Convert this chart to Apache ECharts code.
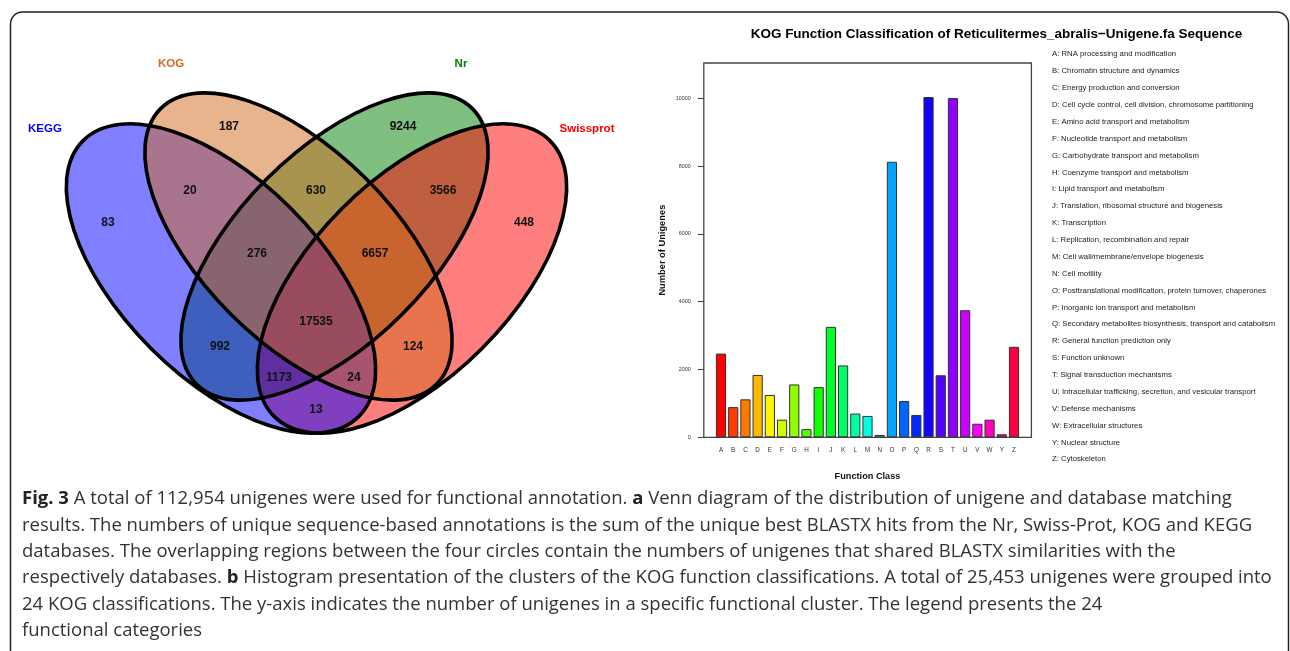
<!DOCTYPE html>
<html><head><meta charset="utf-8">
<script src="https://cdn.jsdelivr.net/npm/echarts@6/dist/echarts.min.js"></script>
<style>html,body{margin:0;padding:0;background:#fff;}#c{width:1290px;height:651px;}</style>
</head><body><div id="c"></div>
<script>
// ---------- DATA ----------
const vennSets = ['KEGG', 'KOG', 'Nr', 'Swissprot'];
const vennSetColors = ['#0000FF', '#D2691E', '#008000', '#FF0000'];
const vennRegionCounts = [83, 187, 9244, 448, 20, 630, 3566, 276, 6657, 17535, 992, 124, 1173, 24, 13];

const kogClasses = ['A','B','C','D','E','F','G','H','I','J','K','L','M','N','O','P','Q','R','S','T','U','V','W','Y','Z'];
const kogCounts = [2470, 890, 1120, 1840, 1250, 520, 1560, 240, 1480, 3260, 2120, 700, 630, 70, 8130, 1070, 660, 10040, 1830, 10010, 3750, 400, 520, 90, 2670];
const kogColors = ['#FF0000','#FF3D00','#FF7A00','#FFB800','#FFF500','#CCFF00','#8FFF00','#52FF00','#14FF00','#00FF29','#00FF66','#00FFA3','#00FFE0','#00E0FF','#00A3FF','#0066FF','#0029FF','#1400FF','#5200FF','#8F00FF','#CC00FF','#FF00F5','#FF00B8','#FF007A','#FF003D'];
const kogDescriptions = [
  'A: RNA processing and modification',
  'B: Chromatin structure and dynamics',
  'C: Energy production and conversion',
  'D: Cell cycle control, cell division, chromosome partitioning',
  'E: Amino acid transport and metabolism',
  'F: Nucleotide transport and metabolism',
  'G: Carbohydrate transport and metabolism',
  'H: Coenzyme transport and metabolism',
  'I: Lipid transport and metabolism',
  'J: Translation, ribosomal structure and biogenesis',
  'K: Transcription',
  'L: Replication, recombination and repair',
  'M: Cell wall/membrane/envelope biogenesis',
  'N: Cell motility',
  'O: Posttranslational modification, protein turnover, chaperones',
  'P: Inorganic ion transport and metabolism',
  'Q: Secondary metabolites biosynthesis, transport and catabolism',
  'R: General function prediction only',
  'S: Function unknown',
  'T: Signal transduction mechanisms',
  'U: Intracellular trafficking, secretion, and vesicular transport',
  'V: Defense mechanisms',
  'W: Extracellular structures',
  'Y: Nuclear structure',
  'Z: Cytoskeleton'
];
const yTicks = [0, 2000, 4000, 6000, 8000, 10000];
const chartTitle = 'KOG Function Classification of Reticulitermes_abralis\u2212Unigene.fa Sequence';
const xAxisName = 'Function Class';
const yAxisName = 'Number of Unigenes';
const captionLines = [
  '{b|Fig. 3} A total of 112,954 unigenes were used for functional annotation. {b|a} Venn diagram of the distribution of unigene and database matching',
  'results. The numbers of unique sequence-based annotations is the sum of the unique best BLASTX hits from the Nr, Swiss-Prot, KOG and KEGG',
  'databases. The overlapping regions between the four circles contain the numbers of unigenes that shared BLASTX similarities with the',
  'respectively databases. {b|b} Histogram presentation of the clusters of the KOG function classifications. A total of 25,453 unigenes were grouped into',
  '24 KOG classifications. The y-axis indicates the number of unigenes in a specific functional cluster. The legend presents the 24',
  'functional categories'
];

// ---------- LAYOUT (positions / sizes only) ----------
const vennShapes = [
  {cx: 221,   cy: 278.5, rx: 195, ry: 99,   tilt: -45},
  {cx: 298.5, cy: 246.5, rx: 195, ry: 95.7, tilt: -45},
  {cx: 334.5, cy: 246.5, rx: 195, ry: 95.7, tilt: 45},
  {cx: 412,   cy: 278.5, rx: 195, ry: 99,   tilt: 45}
];
const vennDrawOrder = [2, 3, 0, 1];
const vennSetLabelPos = [[45, 129], [171, 64], [461, 64], [587, 129]];
const vennRegionPos = [[108,223],[229,127],[403,127],[524,223],[190,191],[316,191],[443,191],[257,254],[375,254],[316,322],[220,347],[413,347],[279,378],[354,378],[316,410]];

function rgba(hex, a) {
  const n = parseInt(hex.slice(1), 16);
  return 'rgba(' + ((n >> 16) & 255) + ',' + ((n >> 8) & 255) + ',' + (n & 255) + ',' + a + ')';
}

const graphics = [];
graphics.push({type: 'rect', z: 1, shape: {x: 10.5, y: 12, width: 1278, height: 720, r: 12},
  style: {fill: 'none', stroke: '#222', lineWidth: 1.5}});
vennDrawOrder.forEach((i, k) => {
  const s = vennShapes[i];
  graphics.push({type: 'ellipse', z: 2 + k, x: s.cx, y: s.cy, rotation: s.tilt * Math.PI / 180,
    shape: {cx: 0, cy: 0, rx: s.rx, ry: s.ry},
    style: {fill: rgba(vennSetColors[i], 0.5), stroke: 'none'}});
});
vennShapes.forEach((s) => {
  graphics.push({type: 'ellipse', z: 10, x: s.cx, y: s.cy, rotation: s.tilt * Math.PI / 180,
    shape: {cx: 0, cy: 0, rx: s.rx, ry: s.ry},
    style: {fill: 'none', stroke: '#000', lineWidth: 3.6}});
});
vennSets.forEach((name, i) => {
  graphics.push({type: 'text', z: 12, x: vennSetLabelPos[i][0], y: vennSetLabelPos[i][1],
    style: {text: name, fill: vennSetColors[i], fontFamily: 'Liberation Sans', fontWeight: 'bold', fontSize: 11.5,
      align: 'center', verticalAlign: 'middle'}});
});
vennRegionCounts.forEach((v, i) => {
  graphics.push({type: 'text', z: 12, x: vennRegionPos[i][0], y: vennRegionPos[i][1],
    style: {text: String(v), fill: '#111', fontFamily: 'Liberation Sans', fontWeight: 'bold', fontSize: 12,
      align: 'center', verticalAlign: 'middle'}});
});
graphics.push({type: 'text', z: 12, x: 996.5, y: 34,
  style: {text: chartTitle, fill: '#000', fontFamily: 'Liberation Sans', fontWeight: 'bold', fontSize: 13.5,
    align: 'center', verticalAlign: 'middle'}});
kogDescriptions.forEach((t, i) => {
  graphics.push({type: 'text', z: 12, x: 1052, y: 54.3 + i * 16.875,
    style: {text: t, fill: '#222', fontFamily: 'Liberation Sans', fontSize: 7.75,
      align: 'left', verticalAlign: 'middle'}});
});
captionLines.forEach((t, i) => {
  graphics.push({type: 'text', z: 12, x: 22, y: 499 + i * 26.4,
    style: {text: t, fill: '#333', fontFamily: 'Open Sans', fontSize: 18.5, align: 'left', verticalAlign: 'middle',
      rich: {b: {fontFamily: 'Open Sans', fontSize: 18.5, fontWeight: 'bold', fill: '#222'}}}});
});

const chart = echarts.init(document.getElementById('c'), null, {renderer: 'canvas'});
chart.setOption({
  animation: false,
  backgroundColor: '#fff',
  grid: [
    {left: 703.8, top: 63, width: 327.6, height: 374.3, show: true, borderColor: '#444', borderWidth: 1.3, backgroundColor: 'transparent'},
    {left: 714.9, top: 63, width: 305.2, height: 374.3, show: false}
  ],
  xAxis: [
    {gridIndex: 0, type: 'value', show: false, min: 0, max: 1},
    {gridIndex: 1, type: 'category', data: kogClasses,
      axisLine: {show: false}, axisTick: {show: false},
      axisLabel: {fontSize: 6.3, color: '#333', fontFamily: 'Liberation Sans', margin: 10, interval: 0},
      name: xAxisName, nameLocation: 'middle', nameGap: 35,
      nameTextStyle: {fontSize: 9.2, fontWeight: 'bold', color: '#111', fontFamily: 'Liberation Sans'}}
  ],
  yAxis: [
    {gridIndex: 0, type: 'value', show: false, min: 0, max: 1},
    {gridIndex: 1, type: 'value', min: 0, max: 11044, interval: 2000, offset: 11.1,
      splitLine: {show: false}, axisLine: {show: false},
      axisTick: {show: true, length: 6, lineStyle: {color: '#444', width: 1}, customValues: yTicks},
      axisLabel: {fontSize: 5.4, color: '#333', fontFamily: 'Liberation Sans', margin: 13, customValues: yTicks,
        formatter: (v) => String(v)},
      name: yAxisName, nameLocation: 'middle', nameGap: 37, nameRotate: 90,
      nameTextStyle: {fontSize: 9.3, fontWeight: 'bold', color: '#111', fontFamily: 'Liberation Sans'}}
  ],
  series: [{
    type: 'bar', xAxisIndex: 1, yAxisIndex: 1, barWidth: 10.2,
    data: kogCounts.map((v, i) => ({value: v, itemStyle: {color: kogColors[i]}})),
    itemStyle: {borderColor: '#333', borderWidth: 1}
  }],
  graphic: graphics
});
</script></body></html>
